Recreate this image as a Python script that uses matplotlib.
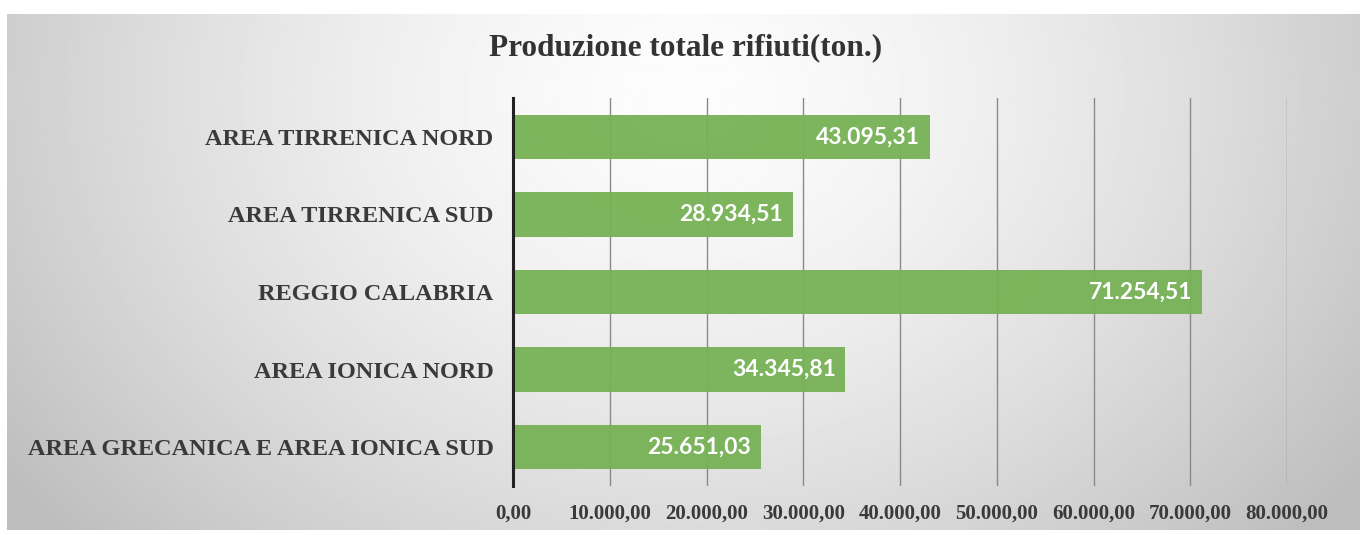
import numpy as np
import matplotlib.pyplot as plt

# dati
aree = ["AREA TIRRENICA NORD", "AREA TIRRENICA SUD", "REGGIO CALABRIA",
        "AREA IONICA NORD", "AREA GRECANICA E AREA IONICA SUD"]
produzione = [43095.31, 28934.51, 71254.51, 34345.81, 25651.03]
ticks_x = [0, 10000, 20000, 30000, 40000, 50000, 60000, 70000, 80000]


def formato_it(v):
    # 43095.31 -> 43.095,31
    s = f"{v:,.2f}"
    return s.replace(",", "X").replace(".", ",").replace("X", ".")


fig = plt.figure(figsize=(13.65, 5.35), dpi=100)

# sfondo con gradiente radiale grigio
bg = fig.add_axes([7 / 1365, 5 / 535, 1353 / 1365, 516 / 535])
yy, xx = np.mgrid[0:1:200j, 0:1:500j]
r = np.sqrt(((xx - 0.5) / 0.62) ** 2 + ((yy - 0.15) / 1.3) ** 2)
val = 0.99 - 0.25 * np.clip(r, 0, 1) ** 1.5
bg.imshow(val, cmap="gray", vmin=0, vmax=1, aspect="auto", extent=[0, 1, 0, 1], origin="upper")
bg.axis("off")

ax = fig.add_axes([513 / 1365, 1 - 486 / 535, 774 / 1365, 388 / 535])
ax.patch.set_alpha(0)

pos = np.arange(len(aree))
ax.barh(pos, produzione, height=0.57, color="#76b255", alpha=0.95, zorder=2)
ax.set_xlim(0, 80000)
ax.set_ylim(len(aree) - 0.5, -0.5)

ax.set_xticks(ticks_x)
ax.set_xticklabels([formato_it(t) for t in ticks_x], fontfamily="Liberation Serif",
                   fontweight="bold", fontsize=15, color="#3a3a3a")
ax.set_yticks(pos)
ax.set_yticklabels(aree, fontfamily="Liberation Serif", fontweight="bold",
                   fontsize=17.5, color="#3a3a3a")
ax.tick_params(axis="both", length=0)
ax.tick_params(axis="x", pad=13)
ax.tick_params(axis="y", pad=14)

ax.grid(axis="x", color="#8a8a8a", linewidth=1, zorder=1)
for s in ["top", "right", "bottom"]:
    ax.spines[s].set_visible(False)
ax.spines["left"].set_color("#222222")
ax.spines["left"].set_linewidth(2.2)
ax.spines["left"].set_zorder(3)

for i, v in enumerate(produzione):
    ax.annotate(formato_it(v), (v, i), xytext=(-7, 0), textcoords="offset points",
                ha="right", va="center", color="white", fontsize=16.5,
                fontfamily="Lato", fontweight="bold", zorder=4)

fig.text(0.502, 1 - 48 / 535, "Produzione totale rifiuti(ton.)", ha="center", va="center",
         fontfamily="Liberation Serif", fontweight="bold", fontsize=22.5, color="#333333")

fig.savefig("out.png", dpi=100)
